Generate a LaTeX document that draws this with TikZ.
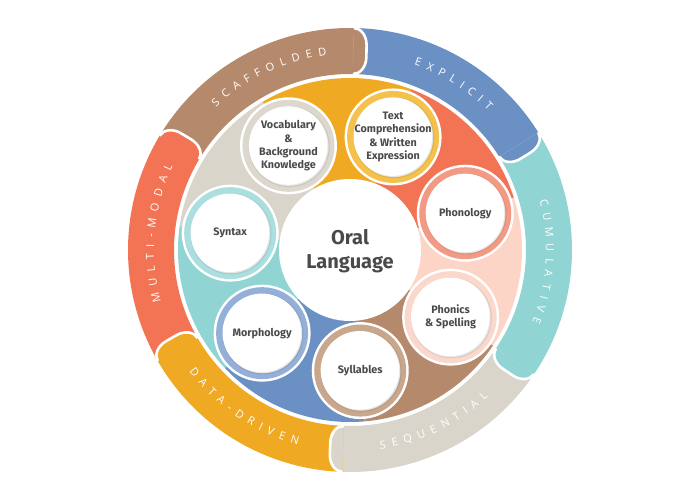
\documentclass[tikz,border=0pt]{standalone}
\usepackage{fontspec}
\setmainfont{Fira Sans}
\newfontfamily\ringfont{Open Sans}
\definecolor{cBrown}{HTML}{B5896B}
\definecolor{cBlue}{HTML}{6B91C4}
\definecolor{cTeal}{HTML}{90D4D4}
\definecolor{cGray}{HTML}{D9D5CA}
\definecolor{cGold}{HTML}{F0A922}
\definecolor{cCoral}{HTML}{F27455}
\definecolor{cPeach}{HTML}{FDD5C7}
\definecolor{bGray}{HTML}{DCD8CE}
\definecolor{bGold}{HTML}{F4C14C}
\definecolor{bSalmon}{HTML}{F39A84}
\definecolor{bPeach}{HTML}{FBD8CC}
\definecolor{bTan}{HTML}{C9A78D}
\definecolor{bBlue}{HTML}{94AFD8}
\definecolor{bTeal}{HTML}{ABDEDF}
\definecolor{txt}{HTML}{4A4A4A}
\newlength\rtw
\newlength\rtacc
\newlength\rtpos
\newlength\rtsp
\setlength\rtsp{6.3pt}
\newcommand\rfont{\ringfont\fontsize{11}{13}\selectfont}
\tikzset{
  ringlbl/.style={anchor=base, inner sep=0pt, font=\rfont, text=white},
  lbl/.style={align=center, inner sep=0pt, text=txt, font=\bfseries\fontsize{10.8}{13.3}\selectfont},
  mainlbl/.style={align=center, inner sep=0pt, text=txt, font=\bfseries\fontsize{20}{23.3}\selectfont},
}
% measure letter widths (outside the picture)
\newcommand\measureletters[1]{%
  \foreach \ch in {#1}{\settowidth{\rtw}{\rfont\ch}\expandafter\xdef\csname rw@\ch\endcsname{\the\rtw}}}
% outer ring band: color, start angle (ccw side), end angle (cw side)
\newcommand\ringband[3]{%
  \fill[#1] (#2:222) arc[start angle=#2, end angle=#3, radius=222] -- (#3:176)
    arc[start angle=#3, end angle=#2, radius=176] -- cycle;}
% rounded end cap of a band: color, end angle
\newcommand\ringcap[2]{%
  \begin{scope}[rotate=#2]
    \fill[#1] (222,0) arc[start angle=0, end angle=-90, x radius=17, y radius=13]
      -- (193,-13) arc[start angle=-90, end angle=-180, x radius=17, y radius=13] -- cycle;
    \draw[white, line width=2.6pt] (222,0) arc[start angle=0, end angle=-90, x radius=17, y radius=13]
      -- (193,-13) arc[start angle=-90, end angle=-180, x radius=17, y radius=13];
  \end{scope}}
% letters along the ring: letters, centre angle, base radius, direction (1 cw, -1 ccw), name
\newcommand\ringtext[5]{%
  \global\rtacc=0pt
  \foreach \ch in {#1}{\global\advance\rtacc by \csname rw@\ch\endcsname\relax\global\advance\rtacc by \rtsp}%
  \global\advance\rtacc by -\rtsp
  \global\rtpos=-0.5\rtacc
  \foreach \ch [count=\i] in {#1}{%
    \rtw=\csname rw@\ch\endcsname\relax
    \pgfmathsetmacro\ang{#2 - #4*(\rtpos + 0.5*\rtw)/#3*180/pi}%
    \pgfmathsetmacro\rot{\ang - #4*90}%
    \node[ringlbl, rotate=\rot] (#5-\i) at (\ang:#3) {\ch};
    \global\advance\rtpos by \rtw
    \global\advance\rtpos by \rtsp
  }}
% inner wedge: color, from angle, to angle
\newcommand\innerwedge[3]{\fill[#1] (0,0) -- (#2:172) arc[start angle=#2, end angle=#3, radius=172] -- cycle;}
% bubble: name, angle, ring colour, text
\newcommand\bubble[4]{%
  \path (#2:121) coordinate (#1-c);
  \fill[white] (#1-c) circle (48.5);
  \fill[#3] (#1-c) circle (46);
  \fill[#3!70!black, opacity=0.25] ([shift={(0.8,-0.8)}]#1-c) circle (40.5);
  \fill[black!10] ([shift={(0.6,-0.6)}]#1-c) circle (39.5);
  \fill[white] ([shift={(-0.3,0.3)}]#1-c) circle (39.3);
  \node[lbl] (#1) at (#1-c) {#4};}
\begin{document}
\measureletters{S,C,A,F,O,L,D,E,X,P,I,T,U,M,V,Q,N,R,-}%
\begin{tikzpicture}[x=1pt, y=1pt]
\useasboundingbox[fill=white] (-350,-250) rectangle (350,250);
% outer ring
\ringband{cBrown}{149}{89}
\ringband{cBlue}{89}{32}
\ringband{cTeal}{32}{-34}
\ringband{cGray}{-34}{-92}
\ringband{cGold}{-92}{-150}
\ringband{cCoral}{210}{149}
\ringcap{cBrown}{89}
\ringcap{cBlue}{32}
\ringcap{cTeal}{-34}
\ringcap{cGray}{-92}
\ringcap{cGold}{-150}
\ringcap{cCoral}{149}
\ringtext{S,C,A,F,F,O,L,D,E,D}{115}{196}{1}{scaf}
\ringtext{E,X,P,L,I,C,I,T}{58}{196}{1}{expl}
\ringtext{C,U,M,U,L,A,T,I,V,E}{-3.5}{196}{1}{cumu}
\ringtext{S,E,Q,U,E,N,T,I,A,L}{-64}{201.5}{-1}{sequ}
\ringtext{D,A,T,A,-,D,R,I,V,E,N}{-124}{201.5}{-1}{data}
\ringtext{M,U,L,T,I,-,M,O,D,A,L}{175}{196}{1}{mult}
% inner wedges (circle angles 17.7 + 51.43k)
\innerwedge{cCoral}{17.7}{69.13}
\innerwedge{cGold}{69.13}{120.56}
\innerwedge{cGray}{120.56}{171.99}
\innerwedge{cTeal}{171.99}{223.42}
\innerwedge{cBlue}{223.42}{274.85}
\innerwedge{cBrown}{274.85}{326.28}
\innerwedge{cPeach}{326.28}{377.7}
% bubbles
\bubble{phon}{17.7}{bSalmon}{Phonology}
\bubble{text}{69.13}{bGold}{Text\\Comprehension\\\& Written\\Expression}
\bubble{voc}{120.56}{bGray}{Vocabulary\\\&\\Background\\Knowledge}
\bubble{syn}{171.99}{bTeal}{Syntax}
\bubble{mor}{223.42}{bBlue}{Morphology}
\bubble{syl}{274.85}{bTan}{Syllables}
\bubble{phs}{326.28}{bPeach}{Phonics\\\& Spelling}
% centre
\fill[white] (0,0) circle (71);
\node[mainlbl] (oral) at (0,-1) {Oral\\Language};
\end{tikzpicture}
\end{document}
